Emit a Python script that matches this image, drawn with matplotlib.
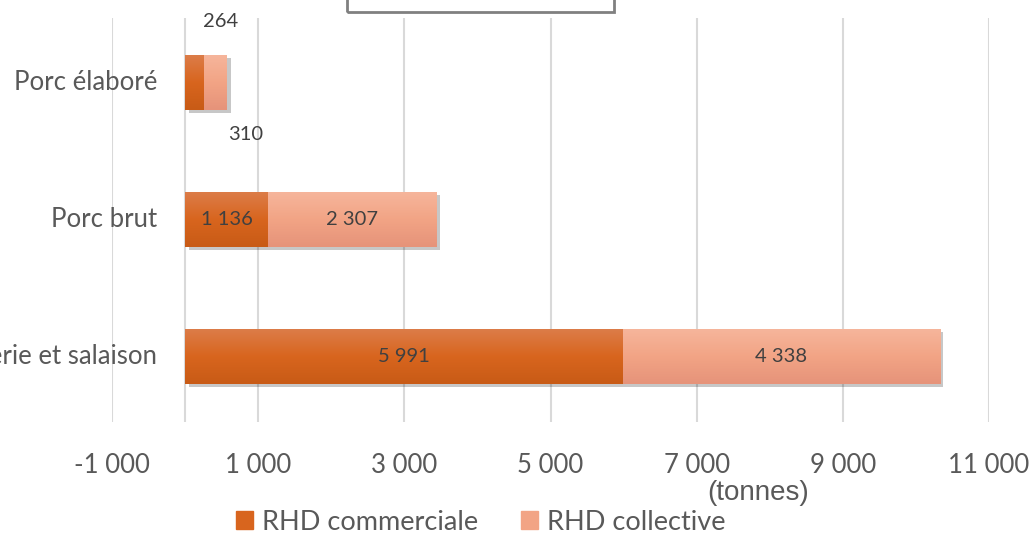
import numpy as np
import matplotlib
matplotlib.use("Agg")
import matplotlib.pyplot as plt
import matplotlib.patheffects as pe
from matplotlib.patches import Rectangle, Patch
from matplotlib.colors import LinearSegmentedColormap

# Données (tonnes)
categories = ["Charcuterie et salaison", "Porc brut", "Porc élaboré"]
rhd_commerciale = [5991, 1136, 264]
rhd_collective = [4338, 2307, 310]
series_names = ["RHD commerciale", "RHD collective"]
xticks = [-1000, 1000, 3000, 5000, 7000, 9000, 11000]

TXT = "#595959"
GRID = "#D9D9D9"
col_com = ("#DC7C48", "#D8651E", "#C85B16")
col_coll = ("#F6B59B", "#F2A485", "#E6937A")

plt.rcParams["font.family"] = ["Lato", "DejaVu Sans"]


def fmt(v):
    return f"{v:,}".replace(",", " ")


def gradient_fill(ax, bars, colors):
    """Remplit chaque barre d'un dégradé vertical."""
    cmap = LinearSegmentedColormap.from_list("g", list(colors))
    grad = np.linspace(0, 1, 64).reshape(-1, 1)
    for b in bars:
        x0, y0 = b.get_x(), b.get_y()
        w, h = b.get_width(), b.get_height()
        im = ax.imshow(grad, cmap=cmap, aspect="auto", origin="upper",
                       extent=(x0, x0 + w, y0, y0 + h), zorder=b.get_zorder() + 0.1)
        im.set_clip_path(b)


fig = plt.figure(figsize=(10.3, 5.34), dpi=100)
ax = fig.add_axes([112 / 1030, 1 - 422 / 534, (989 - 112) / 1030, (422 - 18) / 534])

y = np.arange(len(categories))
h = 0.4
shadow = [pe.SimplePatchShadow(offset=(2.5, -2.5), shadow_rgbFace="k", alpha=0.22), pe.Normal()]
b1 = ax.barh(y, rhd_commerciale, height=h, color=col_com[1], zorder=3,
             label=series_names[0], path_effects=shadow)
b2 = ax.barh(y, rhd_collective, left=rhd_commerciale, height=h, color=col_coll[1],
             zorder=3, label=series_names[1], path_effects=shadow)
gradient_fill(ax, b1, col_com)
gradient_fill(ax, b2, col_coll)

ax.set_xlim(-1000, 11000)
ax.set_ylim(-0.48, 2.47)
ax.set_xticks(xticks)
ax.set_xticklabels([fmt(v) for v in xticks])
ax.tick_params(axis="x", length=0, pad=22, labelsize=18.5, labelcolor=TXT)
ax.set_yticks([])
ax.grid(axis="x", color=GRID, lw=1.5, zorder=0)
ax.axvline(0, color=GRID, lw=1.5, zorder=1)
for s in ax.spines.values():
    s.set_visible(False)

# libellés des catégories, alignés sur l'axe 0
for yi, cat in zip(y, categories):
    ax.annotate(cat, (0, yi), xytext=(-28, 0), textcoords="offset pixels",
                ha="right", va="center", fontsize=18.5, color=TXT, annotation_clip=False)

# étiquettes de données
for i in range(2):
    ax.text(rhd_commerciale[i] / 2, y[i], fmt(rhd_commerciale[i]), ha="center",
            va="center", fontsize=14.5, color="#404040", zorder=6)
    ax.text(rhd_commerciale[i] + rhd_collective[i] / 2, y[i], fmt(rhd_collective[i]),
            ha="center", va="center", fontsize=14.5, color="#404040", zorder=6)
# petites valeurs placées hors barre
ax.text(rhd_commerciale[2] + 220, y[2] + 0.445, fmt(rhd_commerciale[2]), ha="center",
        va="center", fontsize=14.5, color="#404040")
ax.text(rhd_commerciale[2] + 560, y[2] - 0.38, fmt(rhd_collective[2]), ha="center",
        va="center", fontsize=14.5, color="#404040")

# titre tronqué (cadre)
fig.patches.append(Rectangle((347 / 1030, 1 - 12 / 534), (614 - 347) / 1030, 0.2,
                             transform=fig.transFigure, fill=False, ec="#808080", lw=2))

handles = [Patch(color=col_com[1], label=series_names[0]),
           Patch(color=col_coll[1], label=series_names[1])]
fig.legend(handles=handles, loc="center", bbox_to_anchor=(0.467, 1 - 522 / 534),
           ncol=2, frameon=False, fontsize=19.5, labelcolor=TXT, handlelength=0.6,
           handleheight=0.6, handletextpad=0.35, columnspacing=1.6)
fig.text(758 / 1030, 1 - 493 / 534, "(tonnes)", ha="center", va="center",
         fontsize=20, color=TXT, family=["Liberation Sans", "DejaVu Sans"])

fig.savefig("out.png", dpi=100)
